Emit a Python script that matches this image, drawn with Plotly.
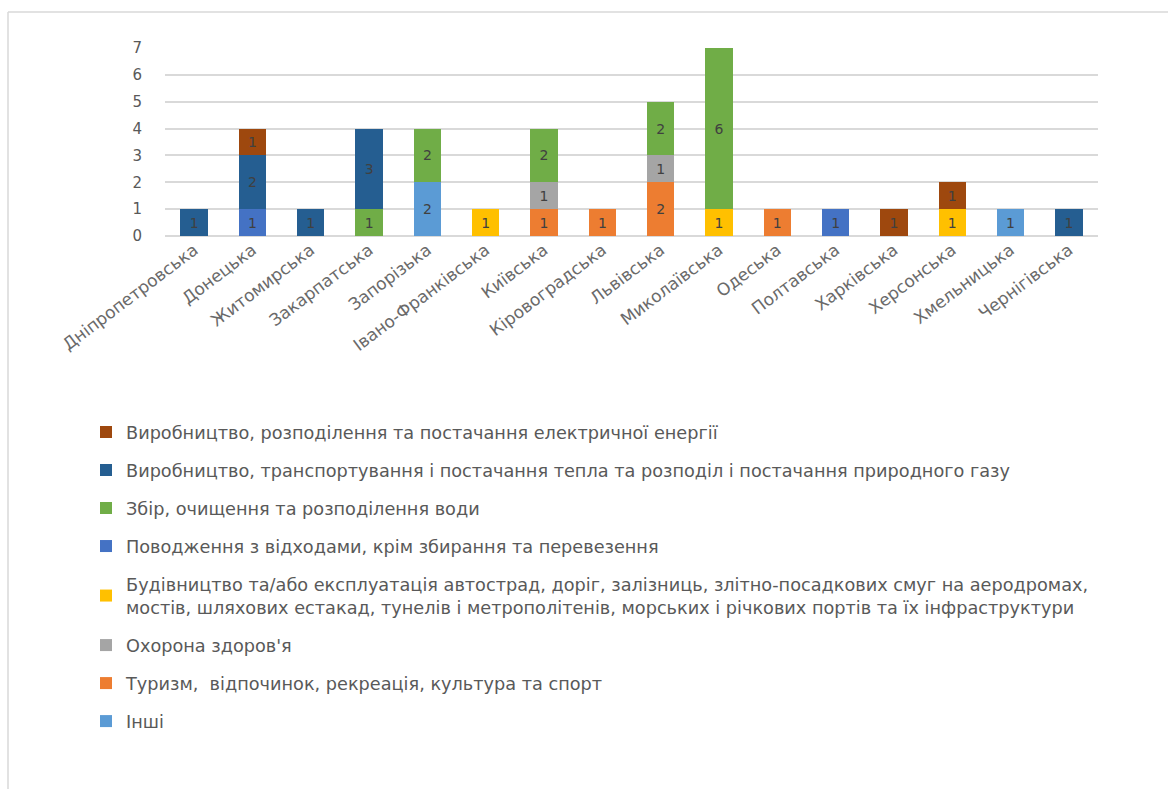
import plotly.graph_objects as go

regions = ["Дніпропетровська", "Донецька", "Житомирська", "Закарпатська", "Запорізька",
           "Івано-Франківська", "Київська", "Кіровоградська", "Львівська", "Миколаївська",
           "Одеська", "Полтавська", "Харківська", "Херсонська", "Хмельницька", "Чернігівська"]

# stacking order: bottom -> top
series_names = [
    "Інші",
    "Туризм,  відпочинок, рекреація, культура та спорт",
    "Охорона здоров'я",
    "Будівництво та/або експлуатація автострад, доріг, залізниць, злітно-посадкових смуг на аеродромах,<br>мостів, шляхових естакад, тунелів і метрополітенів, морських і річкових портів та їх інфраструктури",
    "Поводження з відходами, крім збирання та перевезення",
    "Збір, очищення та розподілення води",
    "Виробництво, транспортування і постачання тепла та розподіл і постачання природного газу",
    "Виробництво, розподілення та постачання електричної енергії",
]
inshi        = [0, 0, 0, 0, 2, 0, 0, 0, 0, 0, 0, 0, 0, 0, 1, 0]
turyzm       = [0, 0, 0, 0, 0, 0, 1, 1, 2, 0, 1, 0, 0, 0, 0, 0]
okhorona     = [0, 0, 0, 0, 0, 0, 1, 0, 1, 0, 0, 0, 0, 0, 0, 0]
budivnytstvo = [0, 0, 0, 0, 0, 1, 0, 0, 0, 1, 0, 0, 0, 1, 0, 0]
vidkhody     = [0, 1, 0, 0, 0, 0, 0, 0, 0, 0, 0, 1, 0, 0, 0, 0]
voda         = [0, 0, 0, 1, 2, 0, 2, 0, 2, 6, 0, 0, 0, 0, 0, 0]
teplo_gaz    = [1, 2, 1, 3, 0, 0, 0, 0, 0, 0, 0, 0, 0, 0, 0, 1]
elektro      = [0, 1, 0, 0, 0, 0, 0, 0, 0, 0, 0, 0, 1, 1, 0, 0]
series_values = [inshi, turyzm, okhorona, budivnytstvo, vidkhody, voda, teplo_gaz, elektro]
colors = ["#5B9BD5", "#ED7D31", "#A5A5A5", "#FFC000", "#4472C4", "#70AD47", "#255E91", "#9E480E"]
y_ticks = [0, 1, 2, 3, 4, 5, 6, 7]

FONT = "DejaVu Sans, sans-serif"

fig = go.Figure()
n = len(series_names)
for i, (name, vals, col) in enumerate(zip(series_names, series_values, colors)):
    fig.add_trace(go.Bar(
        x=regions,
        y=[v if v else None for v in vals],
        name=name,
        legendgroup=f"g{i}",
        legendrank=n - i,
        marker=dict(color=col, line=dict(width=0)),
        width=0.47,
        text=[str(v) if v else "" for v in vals],
        textposition="inside",
        insidetextanchor="middle",
        textangle=0,
        textfont=dict(color="#404040", size=14, family=FONT),
        constraintext="none",
    ))

W, H = 1168, 789
ml, mr, mt, mb = 165, 70, 48, 553
pw, ph = W - ml - mr, H - mt - mb

fig.update_layout(
    width=W, height=H,
    barmode="stack",
    plot_bgcolor="white", paper_bgcolor="white",
    margin=dict(l=ml, r=mr, t=mt, b=mb),
    font=dict(family=FONT, color="#595959"),
    showlegend=True,
    legend=dict(
        x=(86 - ml) / pw, y=(236 - 414) / ph,
        xanchor="left", yanchor="top",
        traceorder="grouped",
        tracegroupgap=12,
        font=dict(size=17.7, color="#595959", family=FONT),
        itemwidth=30,
        bgcolor="rgba(0,0,0,0)",
    ),
    xaxis=dict(
        tickangle=-37,
        tickfont=dict(size=17, color="#6a6a6a", family=FONT),
        showgrid=False, showline=False, ticks="",
        range=[-0.5, 15.5],
    ),
    yaxis=dict(
        range=[0, 7],
        tickvals=y_ticks,
        tickfont=dict(size=15, color="#595959", family=FONT),
        showgrid=True, gridcolor="#D9D9D9", gridwidth=1.5,
        zeroline=True, zerolinecolor="#D9D9D9", zerolinewidth=1.5,
        showline=False, ticks="",
        ticklabelstandoff=22,
    ),
    shapes=[
        dict(type="line", xref="paper", yref="paper",
             x0=(8 - ml) / pw, x1=(W + 5 - ml) / pw,
             y0=(H - mb - 12) / ph, y1=(H - mb - 12) / ph,
             line=dict(color="#D9D9D9", width=1.5)),
        dict(type="line", xref="paper", yref="paper",
             x0=(8 - ml) / pw, x1=(8 - ml) / pw,
             y0=(H - mb - 12) / ph, y1=(H - mb - H - 5) / ph,
             line=dict(color="#D9D9D9", width=1.5)),
    ],
)

fig.write_html("out.html")
